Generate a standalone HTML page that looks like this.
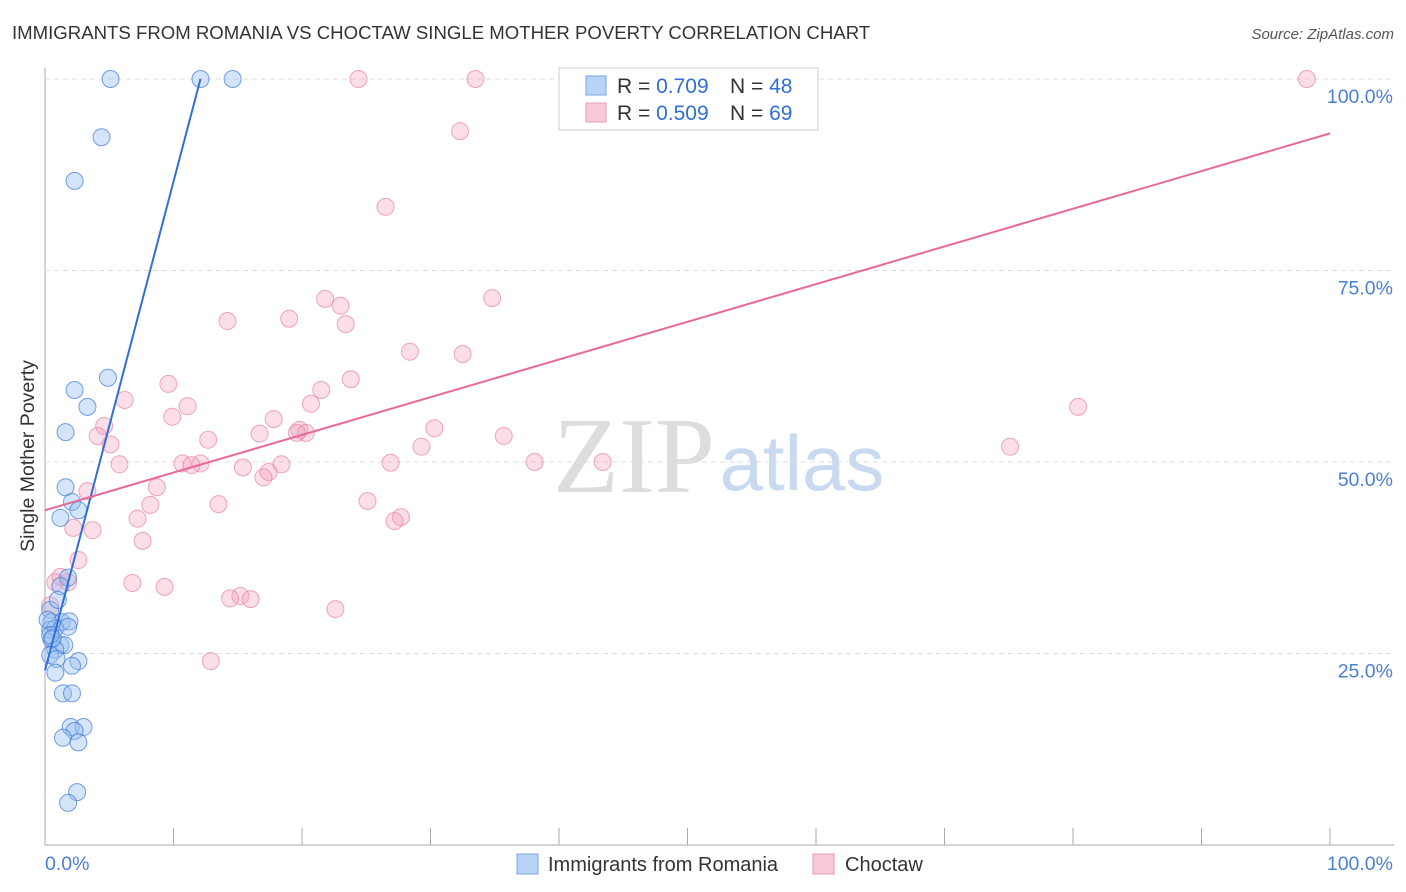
<!DOCTYPE html>
<html><head><meta charset="utf-8"><style>
body{margin:0;background:#fff;font-family:"Liberation Sans",sans-serif;}
svg{display:block}
</style></head><body>
<svg id="chart" width="1406" height="892">
<text x="12" y="39" font-size="18.6" fill="#333">IMMIGRANTS FROM ROMANIA VS CHOCTAW SINGLE MOTHER POVERTY CORRELATION CHART</text>
<text x="1394" y="39" font-size="15" fill="#555" font-style="italic" text-anchor="end">Source: ZipAtlas.com</text>
<text x="634" y="492" font-size="108" fill="#ddd" font-family="Liberation Serif,serif" text-anchor="middle">ZIP</text>
<text x="802" y="490" font-size="78" fill="#c9daf0" text-anchor="middle">atlas</text>
<text transform="translate(34,456) rotate(-90)" font-size="19.5" fill="#333" text-anchor="middle">Single Mother Poverty</text>
<g id="grid"></g><g id="pts"></g><g id="lines"></g>
<g>
<rect x="559" y="68" width="259" height="62" fill="#fff" stroke="#ccc"/>
<rect x="586" y="76" width="20" height="19" fill="#b8d3f5" stroke="#7aa6e6"/>
<rect x="586" y="103" width="20" height="19" fill="#f9c9d7" stroke="#ec9ab4"/>
<text x="617" y="93" font-size="21" fill="#333">R = <tspan fill="#2f6fd6">0.709</tspan></text>
<text x="730" y="93" font-size="21" fill="#333">N = <tspan fill="#2f6fd6">48</tspan></text>
<text x="617" y="120" font-size="21" fill="#333">R = <tspan fill="#2f6fd6">0.509</tspan></text>
<text x="730" y="120" font-size="21" fill="#333">N = <tspan fill="#2f6fd6">69</tspan></text>
</g>
<g>
<rect x="517" y="854" width="21" height="20" fill="#b8d3f5" stroke="#7aa6e6"/>
<text x="548" y="871" font-size="20" fill="#333">Immigrants from Romania</text>
<rect x="813" y="854" width="21" height="20" fill="#f9c9d7" stroke="#ec9ab4"/>
<text x="845" y="871" font-size="20" fill="#333">Choctaw</text>
</g>
</svg>
<script>
const yTicks=[25,50,75,100];
const xTickLabels=["0.0%","100.0%"];
const blueX=[5.1,12.1,14.6,4.4,2.3,4.9,2.3,3.3,1.6,1.6,2.1,2.6,1.2,1.8,1.2,0.4,0.5,1.3,1.9,0.4,0.8,1.8,0.5,1.2,1.5,0.8,0.4,2.6,0.9,2.1,0.8,1.4,2.1,2.0,3.0,2.3,1.4,2.6,2.5,1.8,0.2,0.4,1.0,0.6];
const blueY=[100,100,100,92.4,86.7,61.0,59.4,57.2,53.9,46.7,44.8,43.7,42.7,34.9,33.8,30.7,29.1,29.1,29.2,28.1,28.3,28.5,26.8,26.1,26.1,25.5,24.8,24.0,24.3,23.4,22.5,19.8,19.8,15.4,15.4,14.9,14.0,13.4,6.9,5.5,29.4,27.4,32.0,27.0];
const pinkX=[24.4,33.5,45.4,98.2,32.3,26.5,21.8,34.8,23.0,14.2,19.0,23.4,28.4,32.5,23.8,9.6,21.5,6.2,11.1,20.7,9.9,17.8,4.6,30.3,19.8,20.3,16.7,19.6,4.1,35.7,12.7,5.1,29.3,75.1,80.4,10.7,12.1,5.8,26.9,18.4,38.1,43.4,11.4,15.4,17.4,17.0,8.7,3.3,25.1,13.5,8.2,27.7,7.2,27.2,2.2,3.7,7.6,2.6,1.2,0.8,1.8,6.8,9.3,15.2,14.4,16.0,0.4,22.6,12.9];
const pinkY=[100,100,100,100,93.2,83.3,71.3,71.4,70.4,68.4,68.7,68.0,64.4,64.1,60.8,60.2,59.4,58.1,57.3,57.6,55.9,55.6,54.7,54.4,54.2,53.8,53.7,53.8,53.4,53.4,52.9,52.3,52.0,52.0,57.2,49.8,49.8,49.7,49.9,49.7,50.0,50.0,49.6,49.3,48.7,48.0,46.7,46.2,44.9,44.5,44.4,42.8,42.6,42.3,41.4,41.1,39.7,37.2,35.0,34.3,34.3,34.2,33.7,32.5,32.2,32.1,31.3,30.8,24.0];
const blueLine=[[0,22.8],[12.1,100]];
const pinkLine=[[0,43.7],[100,92.9]];
const sx=v=>45+v*12.85, sy=v=>845-v*7.66;
const NS="http://www.w3.org/2000/svg";
function mk(t,a,p){const e=document.createElementNS(NS,t);for(const k in a)e.setAttribute(k,a[k]);p.appendChild(e);return e;}
const g=document.getElementById('grid');
const ax=mk('line',{x1:45,y1:68,x2:45,y2:845,stroke:'#aaa'},g);


const xa=mk('line',{x1:45,y1:845,x2:1394,y2:845,stroke:'#aaa'},g);


for(let i=1;i<=10;i++){const t=mk('line',{x1:sx(i*10),y1:828,x2:sx(i*10),y2:845,stroke:'#aaa'},g);

}
yTicks.forEach(v=>{const l=mk('line',{x1:45,y1:sy(v),x2:1394,y2:sy(v),stroke:'#ddd','stroke-dasharray':'5,4'},g);


const t=mk('text',{x:1393,y:sy(v)+24,'font-size':19.5,fill:'#4a7fd6','text-anchor':'end'},g);t.textContent=v.toFixed(1)+'%';

});
xTickLabels.forEach((s,i)=>{const t=mk('text',{x:i?1393:45,y:870,'font-size':19.5,fill:'#4a7fd6','text-anchor':i?'end':'start'},g);t.textContent=s;

});
const p=document.getElementById('pts');
pinkX.forEach((x,i)=>{const c=mk('circle',{cx:sx(x),cy:sy(pinkY[i]),r:8.5,fill:'rgba(244,160,188,0.35)',stroke:'rgba(232,130,165,0.7)','stroke-width':1},p);

});
blueX.forEach((x,i)=>{const c=mk('circle',{cx:sx(x),cy:sy(blueY[i]),r:8.5,fill:'rgba(150,190,240,0.4)',stroke:'rgba(60,120,215,0.7)','stroke-width':1},p);

});
const L=document.getElementById('lines');
const bl=mk('line',{x1:sx(blueLine[0][0]),y1:sy(blueLine[0][1]),x2:sx(blueLine[1][0]),y2:sy(blueLine[1][1]),stroke:'#2f6fd6','stroke-width':2},L);


const pl=mk('line',{x1:sx(pinkLine[0][0]),y1:sy(pinkLine[0][1]),x2:sx(pinkLine[1][0]),y2:sy(pinkLine[1][1]),stroke:'#e86a98','stroke-width':2},L);


</script>
</body></html>
